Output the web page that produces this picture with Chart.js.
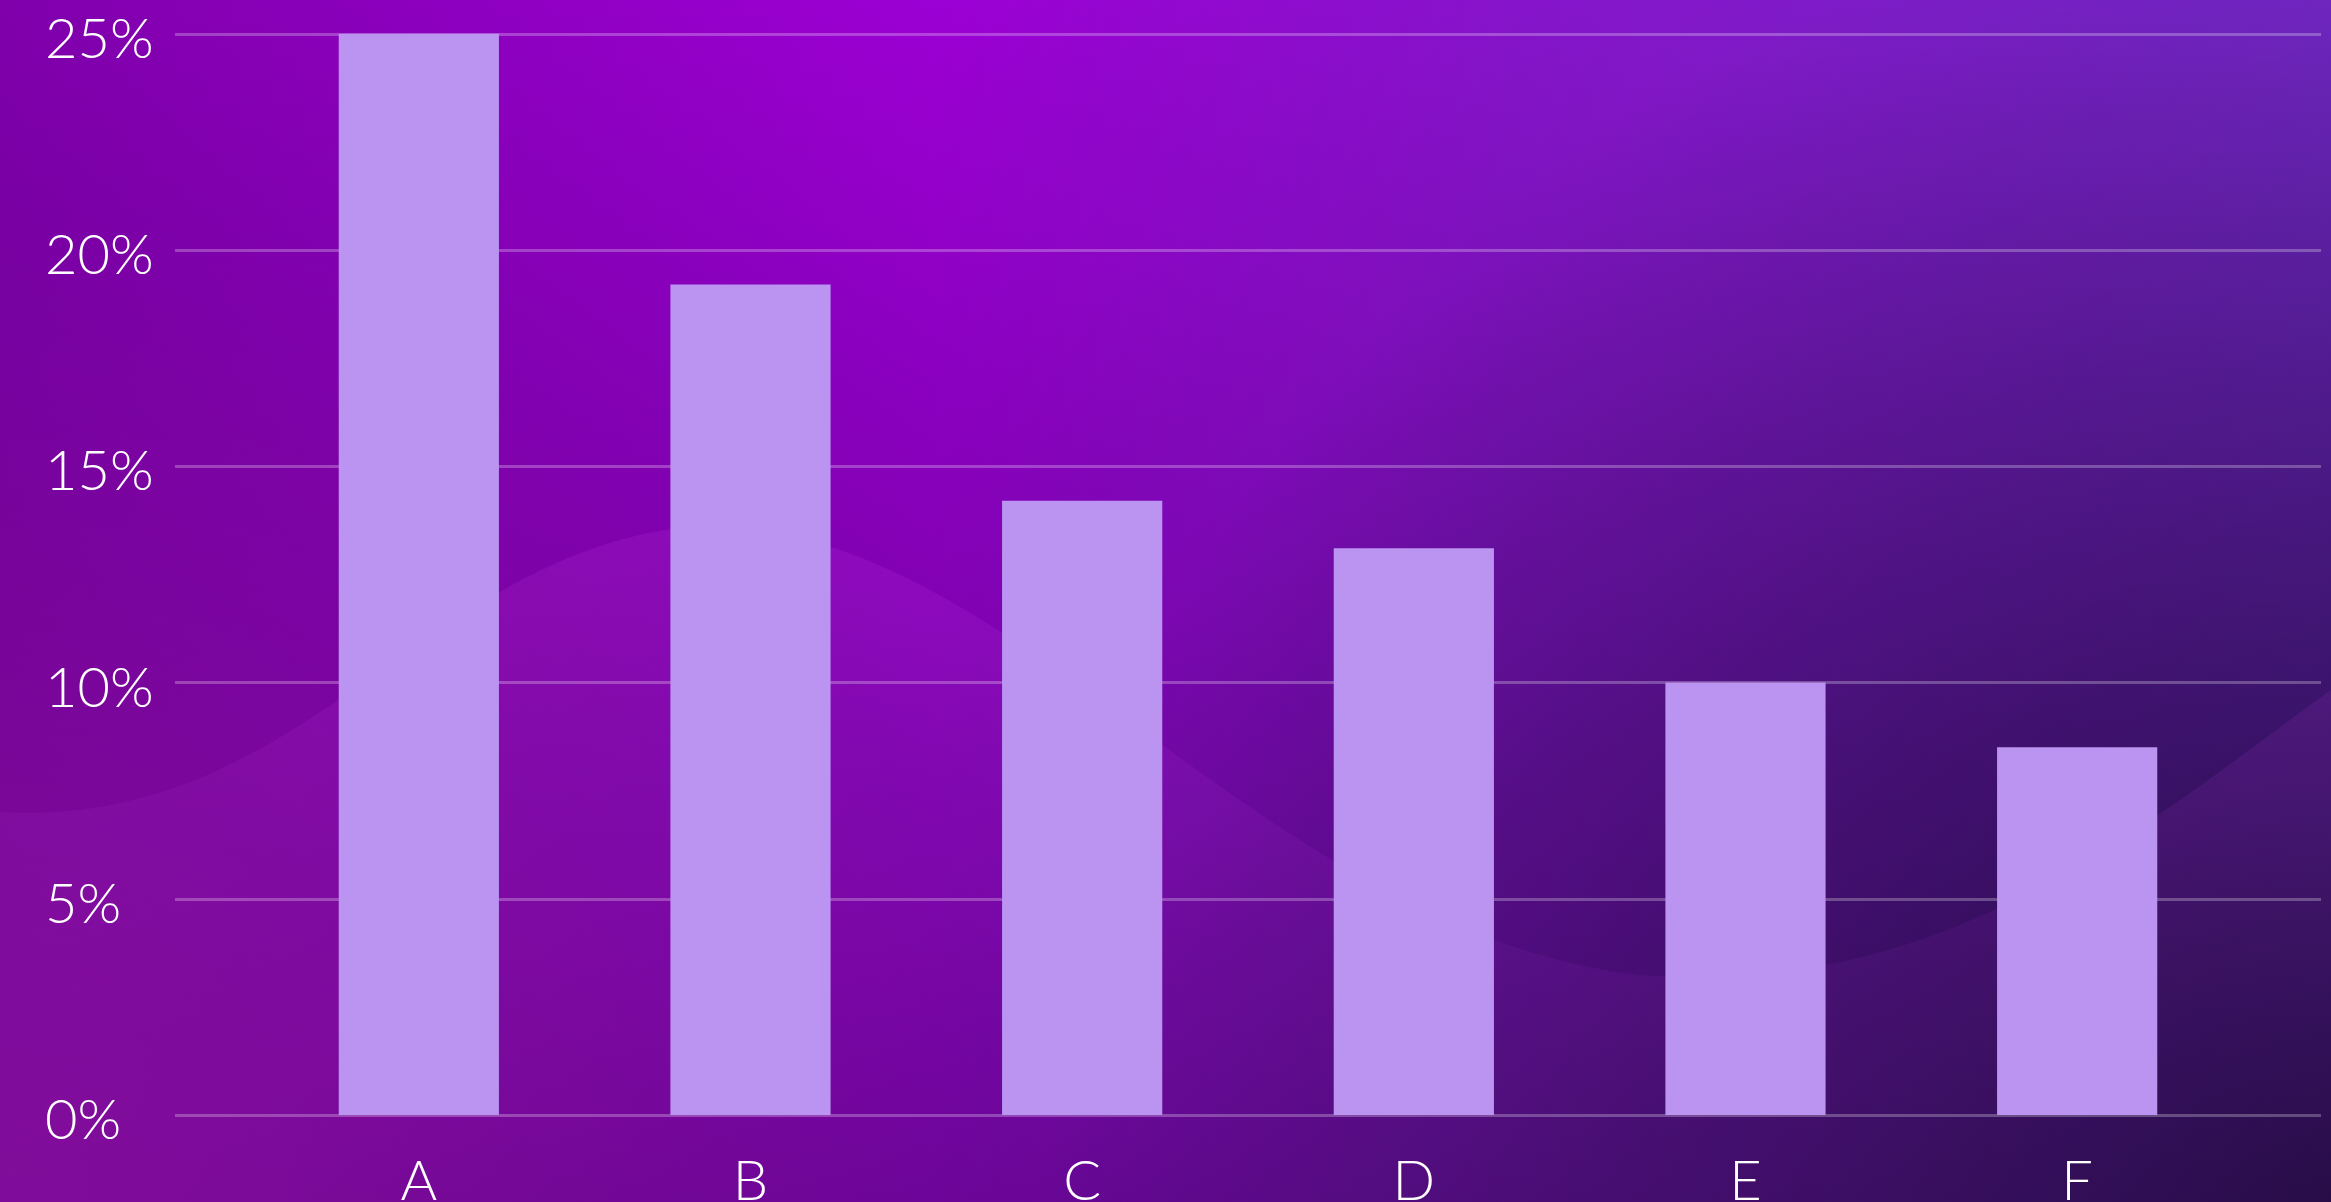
<!DOCTYPE html>
<html>
<head>
<meta charset="utf-8">
<script src="https://cdn.jsdelivr.net/npm/chart.js@4/dist/chart.umd.min.js"></script>
<style>
  html, body { margin: 0; padding: 0; background: #5a0890; overflow: hidden; }
  #barChart { display: block; }
</style>
</head>
<body>
<canvas id="barChart" width="2331" height="1202"></canvas>
<script>
// dati
const categories = ['A', 'B', 'C', 'D', 'E', 'F'];
const shares = [25, 19.2, 14.2, 13.1, 10, 8.5];
const yTicks = [0, 5, 10, 15, 20, 25];

const BAR_COLOR = '#ba94f0';
const GRID_COLOR = 'rgba(255,255,255,0.26)';
const GRID_EXTRA = 78; // le linee sporgono oltre l'area del grafico

function radial(ctx, x, y, r, stops) {
    const g = ctx.createRadialGradient(x, y, 0, x, y, r);
    stops.forEach(s => g.addColorStop(s[0], s[1]));
    return g;
}

// sfondo viola con onda chiara
const backgroundPlugin = {
    id: 'bg',
    beforeDraw(chart) {
        const { ctx, width: w, height: h } = chart;
        ctx.save();
        // tinta di base, da sinistra a destra
        let g = ctx.createLinearGradient(0, 0, w, 0);
        g.addColorStop(0, '#8000ac');
        g.addColorStop(0.4, '#9c00d4');
        g.addColorStop(0.65, '#8614ca');
        g.addColorStop(1, '#7428c8');
        ctx.fillStyle = g;
        ctx.fillRect(0, 0, w, h);

        // scurisce verso il basso
        g = ctx.createLinearGradient(0, 0, 0, h);
        g.addColorStop(0, 'rgba(20,4,45,0)');
        g.addColorStop(1, 'rgba(20,4,45,0.38)');
        ctx.fillStyle = g;
        ctx.fillRect(0, 0, w, h);

        // angolo scuro in basso a destra
        ctx.fillStyle = radial(ctx, w, h, 1300, [[0, 'rgba(15,5,35,0.72)'], [1, 'rgba(15,5,35,0)']]);
        ctx.fillRect(0, 0, w, h);

        // bagliore magenta in basso a sinistra
        ctx.fillStyle = radial(ctx, 0, h, 1000, [[0, 'rgba(170,20,180,0.5)'], [1, 'rgba(170,20,180,0)']]);
        ctx.fillRect(0, 0, w, h);

        // onda
        ctx.beginPath();
        ctx.moveTo(0, 812);
        ctx.bezierCurveTo(300, 830, 420, 560, 680, 528);
        ctx.bezierCurveTo(1000, 500, 1250, 930, 1640, 975);
        ctx.bezierCurveTo(1950, 1000, 2150, 820, 2331, 690);
        ctx.lineTo(w, h);
        ctx.lineTo(0, h);
        ctx.closePath();
        g = ctx.createLinearGradient(0, 520, 0, h);
        g.addColorStop(0, 'rgba(210,70,235,0.15)');
        g.addColorStop(1, 'rgba(150,40,200,0.06)');
        ctx.fillStyle = g;
        ctx.fill();
        ctx.restore();
    }
};

// linee orizzontali che escono dall'area dei dati
const gridPlugin = {
    id: 'wideGrid',
    beforeDatasetsDraw(chart) {
        const { ctx, chartArea, scales } = chart;
        ctx.save();
        ctx.strokeStyle = GRID_COLOR;
        ctx.lineWidth = 3;
        scales.y.ticks.forEach(t => {
            const y = Math.round(scales.y.getPixelForValue(t.value)) + 0.5;
            ctx.beginPath();
            ctx.moveTo(chartArea.left - GRID_EXTRA, y);
            ctx.lineTo(chartArea.right + GRID_EXTRA, y);
            ctx.stroke();
        });
        ctx.restore();
    }
};

function initChart() {
    const ctx = document.getElementById('barChart').getContext('2d');
    const tickFont = { family: 'Lato', size: 56, weight: 300 };
    new Chart(ctx, {
        type: 'bar',
        data: {
            labels: categories,
            datasets: [{
                data: shares,
                backgroundColor: BAR_COLOR,
                borderWidth: 0,
                categoryPercentage: 1,
                barPercentage: 0.483
            }]
        },
        options: {
            responsive: false,
            animation: false,
            devicePixelRatio: 1,
            layout: { padding: { top: 32, right: 88, bottom: 0, left: 45 } },
            plugins: { legend: { display: false }, tooltip: { enabled: false } },
            scales: {
                x: {
                    grid: { display: false, drawTicks: false },
                    border: { display: false },
                    ticks: { color: '#ffffff', padding: 33, font: tickFont },
                    afterFit(scale) { scale.height = 87; }
                },
                y: {
                    min: 0,
                    max: 25,
                    afterBuildTicks(scale) { scale.ticks = yTicks.map(v => ({ value: v })); },
                    grid: { display: false, drawTicks: false },
                    border: { display: false },
                    ticks: {
                        color: '#ffffff',
                        padding: 0,
                        crossAlign: 'far',
                        labelOffset: 6,
                        font: tickFont,
                        callback: v => v + '%'
                    },
                    afterFit(scale) { scale.width = 208; }
                }
            }
        },
        plugins: [backgroundPlugin, gridPlugin]
    });
}

window.onload = initChart;
</script>
</body>
</html>
